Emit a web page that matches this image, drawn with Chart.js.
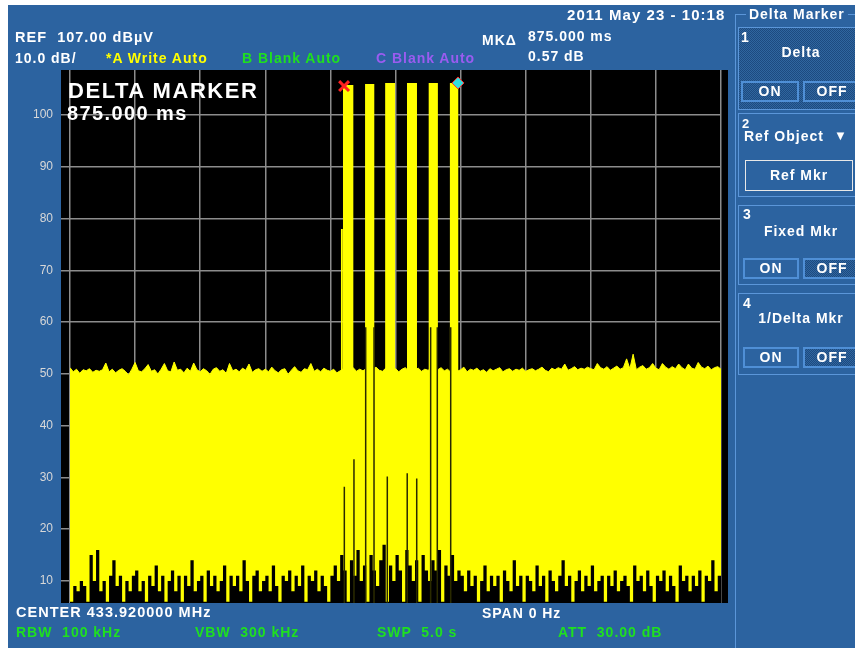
<!DOCTYPE html>
<html>
<head>
<meta charset="utf-8">
<title>Delta Marker - 433.92 MHz zero span</title>
<script src="https://cdn.jsdelivr.net/npm/chart.js@4.4.0/dist/chart.umd.min.js"></script>
<style>
    body { margin: 0; width: 855px; height: 648px; background: #fff; overflow: hidden; position: relative;
           font-family: 'Liberation Sans', Arial, sans-serif; }
    #screen { position: absolute; left: 8px; top: 5px; width: 847px; height: 643px; background: #2c63a0; }
    #trace { position: absolute; left: 0; top: 0; }
    .t { position: absolute; font-weight: bold; font-size: 14px; line-height: 1; color: #fff;
         white-space: pre; letter-spacing: 0.07em; }
    .yel { color: #ffff00; }
    .grn { color: #1fe01f; }
    .pur { color: #9a5cf0; }
    .big { font-size: 22px; }
    .mid { font-size: 20px; }
    .frame { position: absolute; left: 735px; top: 14px; width: 130px; height: 640px;
             border-left: 1px solid #5b96d9; border-top: 1px solid #5b96d9; }
    .title { position: absolute; left: 746px; top: 7px; padding: 0 3px; background: #2c63a0; }
    .key { position: absolute; left: 738px; width: 126px; border: 1px solid #5b96d9; box-sizing: border-box; }
    .dots { background-color: #2a5e9a;
            background-image: repeating-conic-gradient(#1d4a80 0 25%, #30669f 0 50%);
            background-size: 2px 2px; }
    .btn { position: absolute; height: 21px; border: 2px solid #4f8fd6; box-sizing: border-box;
           text-align: center; line-height: 17px; }
    .center { width: 126px; text-align: center; }
</style>
</head>
<body>
<div id="screen"></div>
<canvas id="trace" width="855" height="648"></canvas>

<!-- header -->
<div class="t" style="left:567px;top:7px;font-size:15px">2011 May 23 - 10:18</div>
<div class="t" style="left:15px;top:30px;font-size:14.5px">REF  107.00 dBµV</div>
<div class="t" style="left:15px;top:51px">10.0 dB/</div>
<div class="t yel" style="left:106px;top:51px">*A Write Auto</div>
<div class="t grn" style="left:242px;top:51px">B Blank Auto</div>
<div class="t pur" style="left:376px;top:51px">C Blank Auto</div>
<div class="t" style="left:482px;top:33px">MKΔ</div>
<div class="t" style="left:528px;top:29px">875.000 ms</div>
<div class="t" style="left:528px;top:49px">0.57 dB</div>

<!-- marker readout in the plot -->
<div class="t big" style="left:68px;top:80px">DELTA MARKER</div>
<div class="t mid" style="left:67px;top:103px">875.000 ms</div>

<!-- footer -->
<div class="t" style="left:16px;top:605px;font-size:14.5px">CENTER 433.920000 MHz</div>
<div class="t" style="left:482px;top:606px">SPAN 0 Hz</div>
<div class="t grn" style="left:16px;top:625px">RBW  100 kHz</div>
<div class="t grn" style="left:195px;top:625px">VBW  300 kHz</div>
<div class="t grn" style="left:377px;top:625px">SWP  5.0 s</div>
<div class="t grn" style="left:558px;top:625px">ATT  30.00 dB</div>

<!-- softkey panel -->
<div class="frame"></div>
<div class="t title" style="left:746px;top:7px">Delta Marker</div>

<div class="key dots" style="top:27px;height:83px"></div>
<div class="t" style="left:741px;top:30px">1</div>
<div class="t center" style="left:738px;top:45px">Delta</div>
<div class="t btn dots" style="left:741px;top:81px;width:58px">ON</div>
<div class="t btn" style="left:803px;top:81px;width:58px">OFF</div>

<div class="key" style="top:113px;height:84px"></div>
<div class="t" style="left:742px;top:117px;font-size:13px">2</div>
<div class="t" style="left:744px;top:129px">Ref Object</div>
<div class="t" style="left:834px;top:129px;font-size:13px">▼</div>
<div class="t" style="left:745px;top:160px;width:108px;height:31px;border:1px solid #e8e8e8;box-sizing:border-box;text-align:center;line-height:29px">Ref Mkr</div>

<div class="key" style="top:205px;height:80px"></div>
<div class="t" style="left:743px;top:207px">3</div>
<div class="t center" style="left:738px;top:224px">Fixed Mkr</div>
<div class="t btn" style="left:743px;top:258px;width:56px">ON</div>
<div class="t btn dots" style="left:803px;top:258px;width:58px">OFF</div>

<div class="key" style="top:293px;height:82px"></div>
<div class="t" style="left:743px;top:296px">4</div>
<div class="t center" style="left:738px;top:311px">1/Delta Mkr</div>
<div class="t btn" style="left:743px;top:347px;width:56px">ON</div>
<div class="t btn dots" style="left:803px;top:347px;width:58px">OFF</div>

<script>
// sweep: 5.0 s across 10 divisions, time in ms
const sweepMs = 5000;
const xGrid = [0, 500, 1000, 1500, 2000, 2500, 3000, 3500, 4000, 4500, 5000];
const yTicks = [10, 20, 30, 40, 50, 60, 70, 80, 90, 100];
const yBottom = 5.74;
const yTop = 108.7;

// noise trace, one sample every 25 ms: peak level and the low dips
const noiseStepMs = 25;
const noiseTop = [
    51.2, 50.4, 50.9, 50.1, 50.8, 50.6, 51.0, 50.3, 50.7, 50.5,
    50.8, 52.1, 50.4, 50.9, 50.2, 50.7, 51.0, 50.5, 49.8, 50.9,
    52.2, 50.6, 50.4, 51.0, 51.8, 50.5, 50.8, 50.0, 50.9, 52.0,
    50.6, 50.4, 52.3, 50.7, 50.9, 50.2, 51.1, 50.5, 52.1, 50.8,
    50.4, 51.0, 50.6, 49.9, 50.9, 51.2, 50.5, 50.8, 50.1, 52.0,
    50.6, 50.9, 50.4, 51.1, 50.7, 51.9, 50.3, 50.8, 51.0, 50.5,
    50.9, 50.4, 51.3, 50.6, 50.2, 50.8, 51.0, 49.9, 50.7, 51.4,
    50.6, 50.3, 51.0, 50.8, 52.0, 50.5, 50.9, 50.4, 51.1, 50.7,
    50.5, 50.9, 50.2, 50.6, 51.0, 50.8, 50.4, 51.2, 50.5, 50.9,
    50.6, 51.0, 50.4, 50.9, 51.3, 50.7, 50.5, 51.1, 50.8, 50.6,
    51.0, 50.4, 50.9, 51.2, 50.6, 50.3, 50.8, 51.1, 50.5, 50.9,
    50.7, 51.0, 50.4, 50.8, 51.2, 50.6, 50.9, 50.3, 51.0, 50.5,
    50.8, 51.3, 50.4, 50.9, 50.7, 51.1, 50.5, 50.8, 50.3, 51.0,
    50.6, 50.9, 51.2, 50.4, 50.8, 51.0, 50.5, 50.9, 50.7, 51.1,
    50.5, 50.8, 51.0, 50.6, 50.9, 51.3, 50.7, 50.4, 51.1, 50.8,
    51.2, 50.9, 51.9, 50.7, 51.0, 51.4, 50.8, 51.1, 50.9, 51.3,
    51.0, 50.8, 52.0, 51.2, 50.9, 51.4, 50.7, 51.1, 51.5, 50.9,
    51.2, 52.9, 51.0, 53.8, 50.8, 51.3, 51.6, 50.9, 51.2, 52.0,
    51.1, 50.8, 52.0, 51.3, 50.9, 51.4, 51.0, 51.9, 51.2, 50.8,
    51.9, 51.1, 50.9, 52.2, 51.3, 51.0, 51.5, 50.8, 51.2, 51.4, 50.9
];
const noiseBottom = [
    6, 9, 8, 10, 9, 6, 15, 10, 16, 8,
    10, 6, 11, 14, 9, 11, 6, 10, 8, 11,
    12, 8, 10, 6, 11, 9, 13, 8, 11, 6,
    10, 12, 8, 11, 6, 11, 9, 14, 8, 10,
    11, 6, 12, 9, 11, 8, 10, 13, 6, 11,
    9, 11, 8, 14, 10, 6, 11, 12, 8, 10,
    11, 8, 13, 9, 6, 11, 10, 12, 8, 11,
    9, 13, 6, 11, 10, 12, 8, 11, 9, 6,
    11, 13, 10, 15, 12, 6, 14, 11, 16, 10,
    13, 6, 15, 12, 9, 14, 17, 6, 13, 10,
    15, 12, 6, 16, 13, 10, 14, 6, 15, 12,
    10, 14, 12, 16, 6, 13, 11, 15, 10, 12,
    11, 8, 12, 9, 11, 6, 10, 13, 8, 11,
    9, 11, 6, 12, 10, 8, 14, 9, 11, 6,
    11, 10, 8, 13, 9, 11, 6, 12, 10, 8,
    11, 14, 9, 11, 6, 10, 12, 8, 11, 9,
    13, 8, 10, 11, 6, 11, 9, 12, 8, 10,
    11, 9, 6, 13, 10, 11, 8, 12, 9, 6,
    11, 10, 12, 8, 11, 9, 6, 13, 10, 11,
    8, 11, 9, 12, 6, 11, 10, 14, 8, 11, 9
];

// burst of remote-control pulses (ms)
const pulseStart = [2080, 2096, 2266, 2420, 2588, 2753, 2916];
const pulseEnd   = [2096, 2178, 2339, 2498, 2665, 2826, 2984];
const pulseLevel = [78, 105.8, 106.0, 106.2, 106.2, 106.2, 106.2];

// dark edges where the trace falls between pulses
const dropTime   = [2107, 2181, 2271, 2335, 2437, 2590, 2663, 2770, 2821, 2924];
const dropTop    = [28.2, 33.5, 59, 59, 30.2, 30.8, 29.8, 59, 59, 59];
const dropBottom = [5.7, 5.7, 5.7, 5.7, 5.7, 5.7, 5.7, 5.7, 5.7, 5.7];

// reference marker (x) and delta marker (diamond)
const markerTime  = [2105, 2980];
const markerLevel = [105.6, 106.2];

const yellow = '#ffff00';
const gridGrey = '#8c8c8c';

// black graticule background, a little wider than the grid on the left
const plotBg = {
    id: 'plotBg',
    beforeDraw(chart) {
        const { ctx, chartArea: a } = chart;
        ctx.save();
        ctx.fillStyle = '#000';
        ctx.fillRect(a.left - 9, a.top, a.width + 16, a.bottom - a.top);
        ctx.restore();
    }
};

const noisePoints = noiseTop.map((v, i) => ({ x: i * noiseStepMs, y: v }));
const floorPoints = noiseBottom.map((v, i) => ({ x: i * noiseStepMs, y: v }));
const pulsePoints = pulseStart.flatMap((s, k) => [
    { x: s, y: pulseLevel[k] }, { x: pulseEnd[k], y: pulseLevel[k] }, { x: pulseEnd[k], y: null }
]);
const dropPoints = dropTime.flatMap((t, k) => [
    { x: t, y: dropTop[k] }, { x: t, y: dropBottom[k] }, { x: t, y: null }
]);
const markerPoints = markerTime.map((t, k) => ({ x: t, y: markerLevel[k] }));

new Chart(document.getElementById('trace'), {
    type: 'line',
    data: {
        datasets: [
            {
                label: 'markers',
                data: markerPoints,
                showLine: false,
                pointStyle: ['crossRot', 'rectRot'],
                pointRadius: [7, 6],
                pointBorderWidth: [3, 1],
                pointBorderColor: ['#ff2020', '#ff3030'],
                pointBackgroundColor: ['#ff2020', '#33dddd'],
                clip: false,
                order: 1
            },
            {
                label: 'edges',
                data: dropPoints,
                borderColor: '#2a2a00',
                borderWidth: 1.5,
                pointRadius: 0,
                spanGaps: false,
                order: 2
            },
            {
                label: 'floor',
                data: floorPoints,
                stepped: true,
                borderWidth: 0,
                backgroundColor: '#000',
                pointRadius: 0,
                fill: 'start',
                order: 3
            },
            {
                label: 'pulses',
                data: pulsePoints,
                borderWidth: 0,
                backgroundColor: yellow,
                pointRadius: 0,
                spanGaps: false,
                fill: { value: 49 },
                order: 4
            },
            {
                label: 'A Write',
                data: noisePoints,
                borderColor: yellow,
                borderWidth: 1,
                backgroundColor: yellow,
                pointRadius: 0,
                fill: 'start',
                order: 5
            }
        ]
    },
    options: {
        responsive: false,
        animation: false,
        events: [],
        layout: { padding: { left: 0, top: 70, right: 134, bottom: 45 } },
        plugins: { legend: { display: false }, tooltip: { enabled: false } },
        scales: {
            x: {
                type: 'linear',
                min: 0,
                max: sweepMs,
                afterBuildTicks: s => { s.ticks = xGrid.map(v => ({ value: v })); },
                afterFit: s => { s.height = 0; },
                ticks: { display: false },
                grid: { color: gridGrey, lineWidth: 1.5, drawTicks: false },
                border: { display: false }
            },
            y: {
                min: yBottom,
                max: yTop,
                afterBuildTicks: s => { s.ticks = yTicks.map(v => ({ value: v })); },
                afterFit: s => { s.width = 70; },
                ticks: { color: '#d8d8d8', padding: 8, font: { family: 'Liberation Sans', size: 12 } },
                grid: { color: gridGrey, lineWidth: 1.5, tickLength: 9 },
                border: { display: false }
            }
        }
    },
    plugins: [plotBg]
});
</script>
</body>
</html>
